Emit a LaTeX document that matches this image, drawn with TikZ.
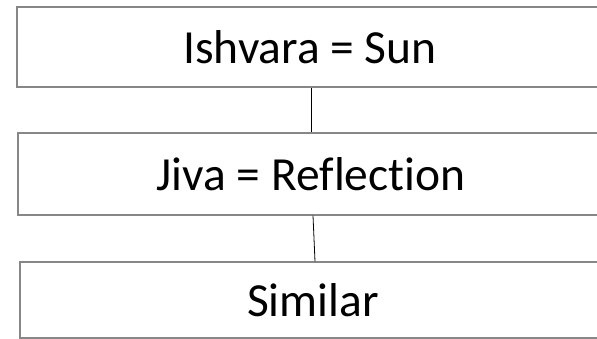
\documentclass[tikz,border=0pt]{standalone}
\usepackage{fontspec}
\setmainfont[Ligatures=NoCommon]{Carlito}
\begin{document}
\begin{tikzpicture}[x=1pt,y=-1pt,
  box/.style={draw=black!47,line width=1.2pt,fill=white,rectangle,inner sep=0pt,
    font=\fontsize{47.5}{54}\selectfont},
  link/.style={draw=black,line width=0.8pt}]
\clip (0,0) rectangle (597,339);
\fill[white] (0,0) rectangle (597,339);
\node[box,minimum width=586pt,minimum height=80pt] (sun) at (310,47) {Ishvara = Sun};
\node[box,minimum width=586pt,minimum height=82pt] (jiva) at (311,174) {Jiva = Reflection};
\node[box,minimum width=586pt,minimum height=76pt] (sim) at (313,300) {Similar};
\draw[link] ([xshift=1pt]sun.south) -- ([xshift=0pt]jiva.north);
\draw[link] ([xshift=2pt]jiva.south) -- ([xshift=2pt]sim.north);
\end{tikzpicture}
\end{document}
